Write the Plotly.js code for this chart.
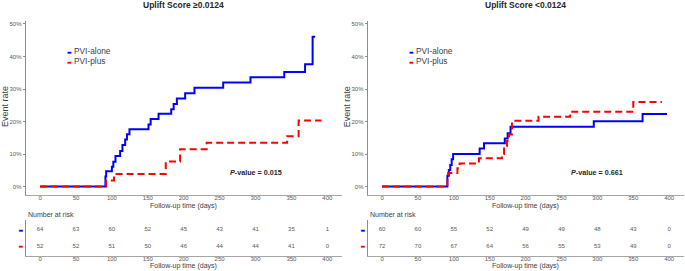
<!DOCTYPE html>
<html>
<head>
<meta charset="utf-8">
<script src="https://cdn.plot.ly/plotly-3.0.1.min.js"></script>
<style>html,body{margin:0;padding:0;background:#fff;}#chart{width:685px;height:271px;}</style>
</head>
<body>
<div id="chart"></div>
<script>
// ---- data ----
const panelTitles = ['Uplift Score \u22650.0124', 'Uplift Score &lt;0.0124'];
const seriesNames = ['PVI-alone', 'PVI-plus'];
const pValues = ['0.015', '0.661'];
const timeTicks = [0, 50, 100, 150, 200, 250, 300, 350, 400];
const yTickVals = [0, 0.1, 0.2, 0.3, 0.4, 0.5];
const yTickText = ['0%', '10%', '20%', '30%', '40%', '50%'];

// left panel (Uplift >= 0.0124)
const leftAloneDays  = [0, 91, 92, 100, 102, 105, 111.5, 114.7, 118.5, 121, 124.5, 151, 154, 165, 182.6, 186, 190.5, 202, 215, 255, 293, 340, 369, 379.5, 383];
const leftAloneRates = [0, 0.031, 0.047, 0.061, 0.076, 0.094, 0.109, 0.128, 0.145, 0.161, 0.176, 0.191, 0.208, 0.224, 0.238, 0.254, 0.271, 0.287, 0.304, 0.320, 0.336, 0.352, 0.376, 0.461, 0.461];
const leftPlusDays   = [0, 92, 103, 175, 195, 232, 344, 360, 392];
const leftPlusRates  = [0, 0.019, 0.0385, 0.077, 0.115, 0.135, 0.155, 0.203, 0.203];

// right panel (Uplift < 0.0124)
const rightAloneDays  = [0, 91, 93, 95, 97, 99, 136, 142, 171, 175, 179, 295, 363, 397];
const rightAloneRates = [0, 0.033, 0.051, 0.066, 0.084, 0.100, 0.117, 0.133, 0.148, 0.164, 0.184, 0.201, 0.223, 0.223];
const rightPlusDays   = [0, 91, 92, 105, 108, 135, 167, 170, 174, 177, 181, 218, 262, 350, 390];
const rightPlusRates  = [0, 0.028, 0.042, 0.056, 0.071, 0.087, 0.100, 0.125, 0.140, 0.160, 0.202, 0.215, 0.230, 0.260, 0.260];

// number at risk
const riskLeftAlone  = [64, 63, 60, 52, 45, 43, 41, 35, 1];
const riskLeftPlus   = [52, 52, 51, 50, 46, 44, 44, 41, 0];
const riskRightAlone = [60, 60, 55, 52, 49, 49, 48, 43, 0];
const riskRightPlus  = [72, 70, 67, 64, 56, 55, 53, 49, 0];

// ---- styles ----
const BLUE = '#0000ff', RED = '#ff0000';
const TXT = '#404040', TICK = '#595959';
const FONT = 'Liberation Sans, Arial, sans-serif';

function curve(x, y, xa, ya, color, dash) {
  return {x: x, y: y, xaxis: xa, yaxis: ya, type: 'scatter', mode: 'lines',
    line: {shape: 'hv', color: color, width: 2, dash: dash}, hoverinfo: 'skip'};
}
function riskRow(vals, row, xa, ya) {
  return {x: timeTicks, y: vals.map(() => row), text: vals.map(String), xaxis: xa, yaxis: ya,
    type: 'scatter', mode: 'text', textfont: {size: 6, color: TICK, family: FONT}, hoverinfo: 'skip'};
}
function dashMark(color) {
  return '<span style="color:' + color + ';font-size:5px;font-family:DejaVu Sans">\u25AC</span>';
}

const data = [
  curve(leftAloneDays, leftAloneRates, 'x', 'y', BLUE, 'solid'),
  curve(leftPlusDays, leftPlusRates, 'x', 'y', RED, '7px,4px'),
  curve(rightAloneDays, rightAloneRates, 'x2', 'y2', BLUE, 'solid'),
  curve(rightPlusDays, rightPlusRates, 'x2', 'y2', RED, '7px,4px'),
  riskRow(riskLeftAlone, 2, 'x3', 'y3'),
  riskRow(riskLeftPlus, 1, 'x3', 'y3'),
  riskRow(riskRightAlone, 2, 'x4', 'y4'),
  riskRow(riskRightPlus, 1, 'x4', 'y4')
];

const W = 685, H = 271;
const leftDom = [25.7 / W, 341.7 / W];
const rightDom = [367.7 / W, 683.5 / W];
const topDom = [1 - 194.7 / H, 1 - 20.7 / H];
const tabDom = [1 - 255.7 / H, 1 - 220 / H];

function xAx(dom, anchor) {
  return {domain: dom, anchor: anchor, range: [-20, 420], tickvals: timeTicks,
    showline: true, linecolor: '#a6a6a6', linewidth: 1.5, ticks: '', showgrid: false, zeroline: false,
    ticklabelstandoff: -3,
    tickfont: {size: 6, color: TICK, family: FONT}, fixedrange: true};
}
function yAx(anchor) {
  return {domain: topDom, anchor: anchor, range: [-0.025, 0.51], tickvals: yTickVals, ticktext: yTickText,
    showline: true, linecolor: '#8c8c8c', linewidth: 1, ticks: 'outside', ticklen: 2, tickcolor: '#8c8c8c',
    showgrid: false, zeroline: false, tickfont: {size: 6, color: TICK, family: FONT}, fixedrange: true};
}
function tAx(anchor) {
  return {domain: tabDom, anchor: anchor, range: [0.42, 2.56], tickvals: [2, 1],
    ticktext: [dashMark(BLUE), dashMark(RED)],
    showline: true, linecolor: '#8c8c8c', linewidth: 1, ticks: '', showgrid: false, zeroline: false,
    tickfont: {size: 7, family: FONT}, fixedrange: true};
}

const annotations = [];
const panels = [
  {xd: 'x domain', x: 'x', y: 'y', xt: 'x3 domain', px: 5 / W, nr: 26 / W},
  {xd: 'x2 domain', x: 'x2', y: 'y2', xt: 'x4 domain', px: 347.3 / W, nr: 368 / W}
];
panels.forEach((p, i) => {
  annotations.push({xref: p.xd, yref: 'paper', x: 0.5, y: 1 - 5.5 / H, xanchor: 'center', yanchor: 'middle',
    text: '<b>' + panelTitles[i] + '</b>', showarrow: false, font: {size: 8.5, color: '#262626', family: FONT}});
  annotations.push({xref: 'paper', yref: 'paper', x: p.px, y: 1 - 107 / H, textangle: -90, xanchor: 'center', yanchor: 'middle',
    text: 'Event rate', showarrow: false, font: {size: 9, color: TXT, family: FONT}});
  annotations.push({xref: p.xd, yref: 'paper', x: 0.5, y: 1 - 206 / H, xanchor: 'center', yanchor: 'middle',
    text: 'Follow-up time (days)', showarrow: false, font: {size: 7, color: TXT, family: FONT}});
  annotations.push({xref: p.xt, yref: 'paper', x: 0.5, y: 1 - 266 / H, xanchor: 'center', yanchor: 'middle',
    text: 'Follow-up time (days)', showarrow: false, font: {size: 7, color: TXT, family: FONT}});
  annotations.push({xref: 'paper', yref: 'paper', x: p.nr, y: 1 - 214.3 / H, xanchor: 'left', yanchor: 'middle',
    text: 'Number at risk', showarrow: false, font: {size: 7, color: TXT, family: FONT}});
  annotations.push({xref: p.x, yref: p.y, x: 36, y: 0.417, xanchor: 'left', yanchor: 'middle', borderpad: 0,
    text: dashMark(BLUE) + ' ' + seriesNames[0], showarrow: false,
    font: {size: 8.3, color: TXT, family: FONT}});
  annotations.push({xref: p.x, yref: p.y, x: 36, y: 0.386, xanchor: 'left', yanchor: 'middle', borderpad: 0,
    text: dashMark(RED) + ' ' + seriesNames[1], showarrow: false,
    font: {size: 8.3, color: TXT, family: FONT}});
  annotations.push({xref: p.x, yref: p.y, x: 300, y: 0.0446, xanchor: 'center', yanchor: 'middle',
    text: '<b><i>P</i>-value = ' + pValues[i] + '</b>', showarrow: false,
    font: {size: 7.2, color: '#262626', family: FONT}});
});

const layout = {
  width: W, height: H, margin: {l: 0, r: 0, t: 0, b: 0, pad: 0},
  paper_bgcolor: '#ffffff', plot_bgcolor: '#ffffff', showlegend: false,
  font: {family: FONT, color: TXT},
  xaxis: xAx(leftDom, 'y'), yaxis: yAx('x'),
  xaxis2: xAx(rightDom, 'y2'), yaxis2: yAx('x2'),
  xaxis3: xAx(leftDom, 'y3'), yaxis3: tAx('x3'),
  xaxis4: xAx(rightDom, 'y4'), yaxis4: tAx('x4'),
  annotations: annotations
};

Plotly.newPlot('chart', data, layout, {staticPlot: true, displayModeBar: false});
</script>
</body>
</html>
